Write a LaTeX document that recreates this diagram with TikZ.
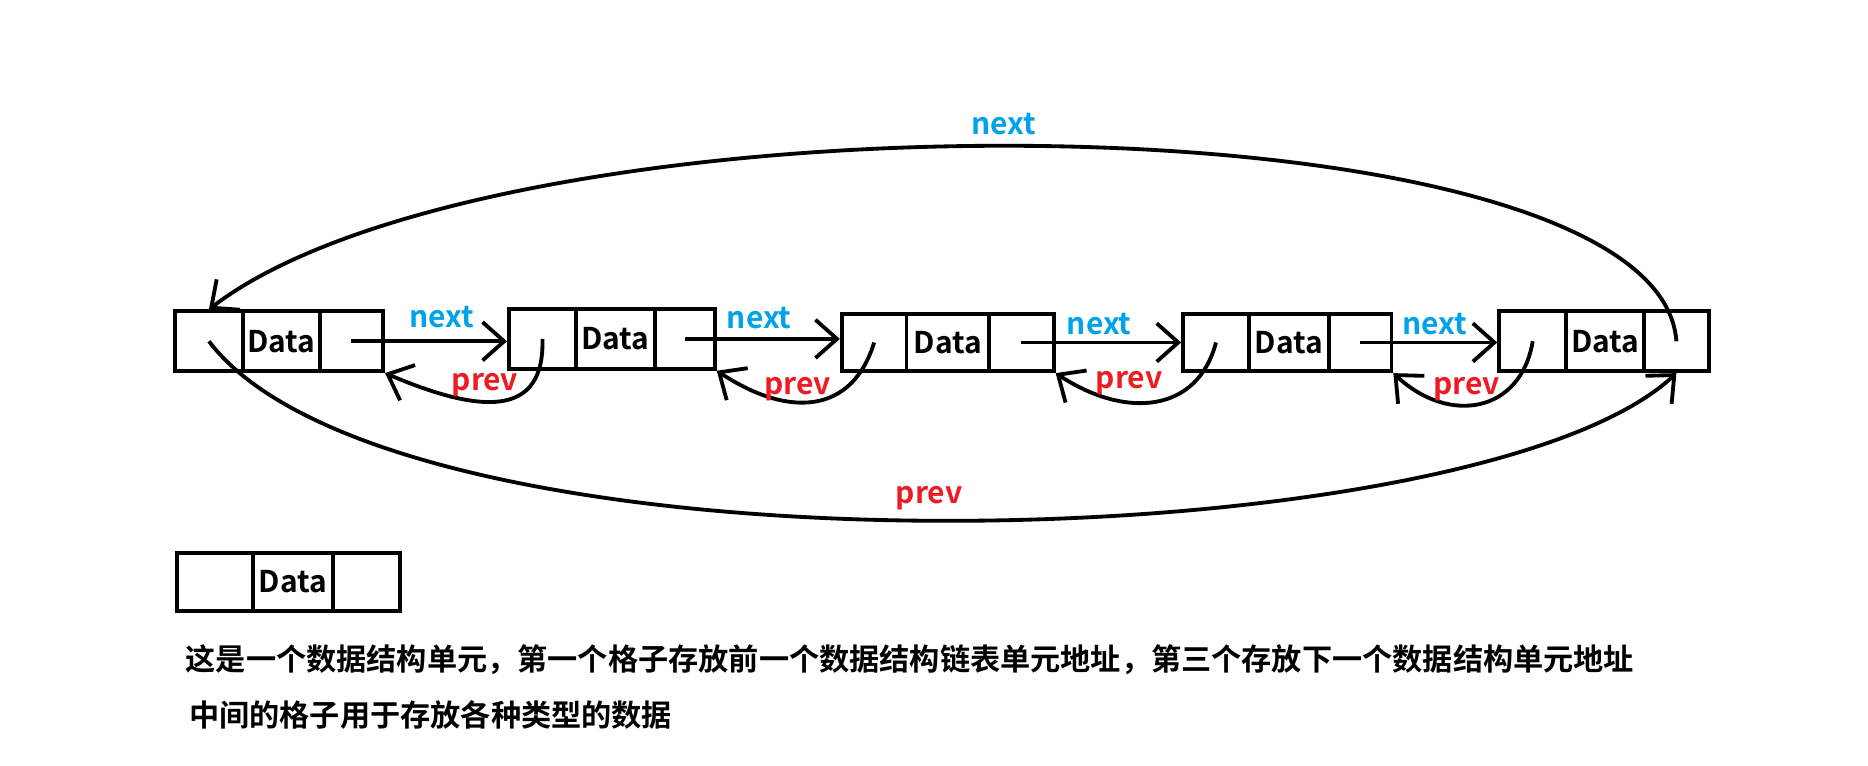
\documentclass[tikz,border=0pt]{standalone}
\usepackage{fontspec}
\setmainfont{Noto Sans CJK SC}[BoldFont={Noto Sans CJK SC Bold}]
\usetikzlibrary{arrows.meta}
\definecolor{nblue}{RGB}{0,162,232}
\definecolor{pred}{RGB}{237,28,36}
\tikzset{
  cell/.style={draw,line width=1.6pt,inner sep=0pt,font=\bfseries\fontsize{12.5}{14}\selectfont},
  link/.style={line width=1.6pt,-{Straight Barb[length=9pt,width=16pt,line width=1.6pt]}},
  nlab/.style={text=nblue,font=\bfseries\fontsize{12.5}{14}\selectfont},
  plab/.style={text=pred,font=\bfseries\fontsize{12.5}{14}\selectfont},
}
\newcommand{\dunit}[7]{%
  \node[cell,minimum width={(#3-#2)*0.5pt},minimum height={(#7-#6)*0.5pt}] (#1a) at ({(#2+#3)/2},{(#6+#7)/2}) {};
  \node[cell,minimum width={(#4-#3)*0.5pt},minimum height={(#7-#6)*0.5pt}] (#1b) at ({(#3+#4)/2},{(#6+#7)/2}) {Data};
  \node[cell,minimum width={(#5-#4)*0.5pt},minimum height={(#7-#6)*0.5pt}] (#1c) at ({(#4+#5)/2},{(#6+#7)/2}) {};
}
\begin{document}
\begin{tikzpicture}[x=0.5pt,y=-0.5pt]
\useasboundingbox[fill=white] (0,0) rectangle (1560,639);
\dunit{b1}{146}{203}{267}{320}{260}{310}
\dunit{b2}{425}{481}{547}{597}{258}{308}
\dunit{b3}{703}{757}{826}{880}{262}{310}
\dunit{b4}{988}{1043}{1110}{1162}{262}{310}
\dunit{b5}{1252}{1308}{1373}{1427}{260}{310}
\dunit{lg}{148}{211}{278}{334}{462}{510}
% next arrows
\draw[link] (b1c.center) -- (b2a.west |- b1c.center);
\draw[link] (b2c.center) -- (b3a.west |- b2c.center);
\draw[link] (b3c.center) -- (b4a.west |- b3c.center);
\draw[link] (b4c.center) -- (b5a.west |- b4c.center);
\node[nlab] (n1) at (369,265) {next};
\node[nlab] (n2) at (634,266) {next};
\node[nlab] (n3) at (918,271) {next};
\node[nlab] (n4) at (1198,271) {next};
% prev arrows
\draw[link] (b2a.center) .. controls (455,350) and (400,345) .. (b1c.south east);
\draw[link] (b3a.center) .. controls (712,345) and (660,350) .. (b2c.south east);
\draw[link] (b4a.center) .. controls (1000,345) and (940,350) .. (b3c.south east);
\draw[link] (b5a.center) .. controls (1270,345) and (1210,355) .. (b4c.south east);
\node[plab] (p1) at (405,322) {prev};
\node[plab] (p2) at (666,325) {prev};
\node[plab] (p3) at (943,320) {prev};
\node[plab] (p4) at (1225,325) {prev};
% big arrows
\draw[link] (b5c.center) .. controls (1385,75) and (420,70) .. (b1a.north);
\node[nlab] (nt) at (838,104) {next};
\draw[link] (b1a.center) .. controls (330,490) and (1230,470) .. (b5c.south);
\node[plab] (pb) at (776,416) {prev};
% caption
\node[anchor=west,font=\bfseries\fontsize{12.6}{14}\selectfont] (t1) at (148,551) {这是一个数据结构单元，第一个格子存放前一个数据结构链表单元地址，第三个存放下一个数据结构单元地址};
\node[anchor=west,font=\bfseries\fontsize{12.6}{14}\selectfont] (t2) at (151,597) {中间的格子用于存放各种类型的数据};
\end{tikzpicture}
\end{document}
